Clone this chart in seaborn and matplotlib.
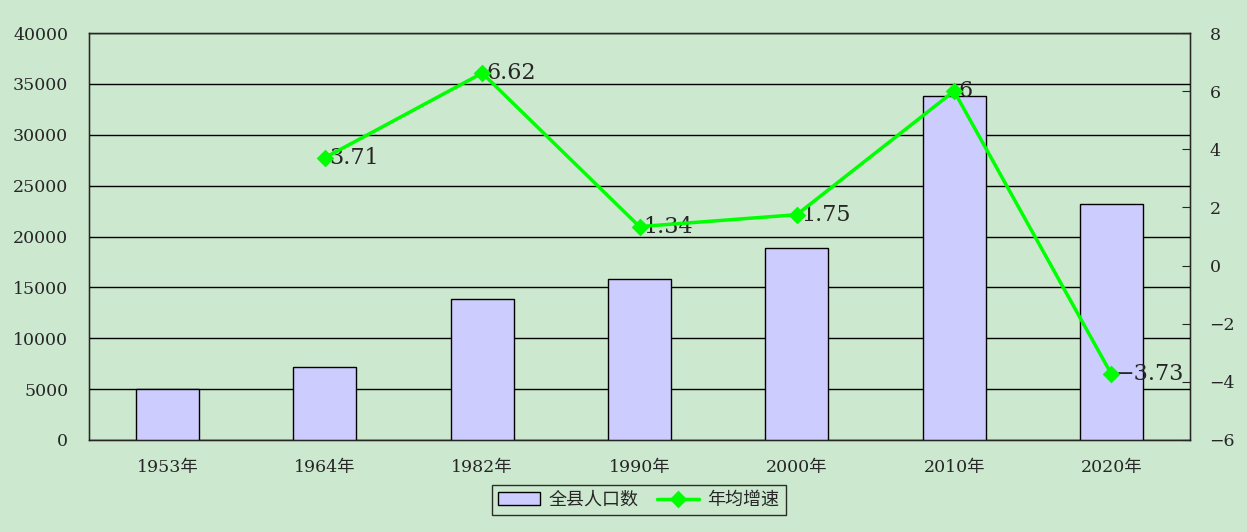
import matplotlib
matplotlib.use("Agg")
import matplotlib.pyplot as plt
import seaborn as sns
import pandas as pd
import numpy as np

years = ["1953年", "1964年", "1982年", "1990年", "2000年", "2010年", "2020年"]
population = [4980, 7200, 13900, 15800, 18900, 33800, 23200]
growth_years = ["1964年", "1982年", "1990年", "2000年", "2010年", "2020年"]
growth = [3.71, 6.62, 1.34, 1.75, 6, -3.73]
growth_labels = ["3.71", "6.62", "1.34", "1.75", "6", "-3.73"]

sns.set_style("white")
fam = ['DejaVu Serif', 'Noto Sans CJK SC', 'DejaVu Sans']
plt.rcParams['font.family'] = fam
plt.rcParams['axes.unicode_minus'] = True

bg = "#CCE8CF"
fig = plt.figure(figsize=(12.47, 5.32), dpi=100, facecolor=bg)
ax = fig.add_axes([89/1247, 92/532, (1190-89)/1247, (440-33)/532])
ax.set_facecolor(bg)

df = pd.DataFrame({"year": years, "pop": population})
sns.barplot(data=df, x="year", y="pop", order=years, color="#CCCCFF",
            edgecolor="black", linewidth=1, width=0.4, saturation=1, ax=ax,
            label="全县人口数", zorder=3)
ax.set_ylim(0, 40000)
ax.set_yticks(np.arange(0, 40001, 5000))
ax.yaxis.grid(True, color="black", linewidth=1)
ax.set_axisbelow(True)
ax.set_xlim(-0.5, 6.5)
ax.set_xlabel("")
ax.set_ylabel("")
ax.tick_params(axis="y", length=0, labelsize=12.5, pad=15)
ax.set_xticks(np.arange(7))
ax.set_xticklabels(years, fontsize=12.5)
ax.tick_params(axis="x", length=0, pad=14)
ax.set_xticks(np.arange(0.5, 6.5, 1), minor=True)
ax.tick_params(axis="x", which="minor", direction="in", length=5, color="black")
for s in ax.spines.values():
    s.set_color("black")
    s.set_linewidth(1)

ax2 = ax.twinx()
gdf = pd.DataFrame({"year": growth_years, "g": growth})
sns.pointplot(data=gdf, x="year", y="g", order=years, color="#00FF00",
              markers="D", markersize=7, linewidth=2.5, ax=ax2,
              label="年均增速", zorder=5)
ax2.set_ylim(-6, 8)
ax2.set_yticks(np.arange(-6, 9, 2))
ax2.tick_params(axis="y", direction="in", length=6, labelsize=12.5, pad=14)
ax2.set_ylabel("")
ax2.set_xlim(-0.5, 6.5)
for i, (v, lab) in enumerate(zip(growth, growth_labels)):
    xi = years.index(growth_years[i])
    ax2.annotate(lab.replace("-", "−"), (xi, v), xytext=(3, 0), textcoords="offset points",
                 ha="left", va="center", fontsize=16)

h1, l1 = ax.get_legend_handles_labels()
h2, l2 = ax2.get_legend_handles_labels()
for a in (ax, ax2):
    if a.get_legend() is not None:
        a.get_legend().remove()
leg = fig.legend(h1 + h2, l1 + l2, loc="center", bbox_to_anchor=(639/1247, 1 - 500/532),
                 ncol=2, frameon=True, fancybox=False,
                 edgecolor="black", facecolor=bg, handlelength=2.3, columnspacing=1.0,
                 handletextpad=0.5, borderpad=0.35,
                 prop={'family': ['Noto Sans CJK SC', 'DejaVu Sans'], 'size': 13})
leg.get_frame().set_linewidth(1)

fig.savefig("out.png", dpi=100, facecolor=bg)
